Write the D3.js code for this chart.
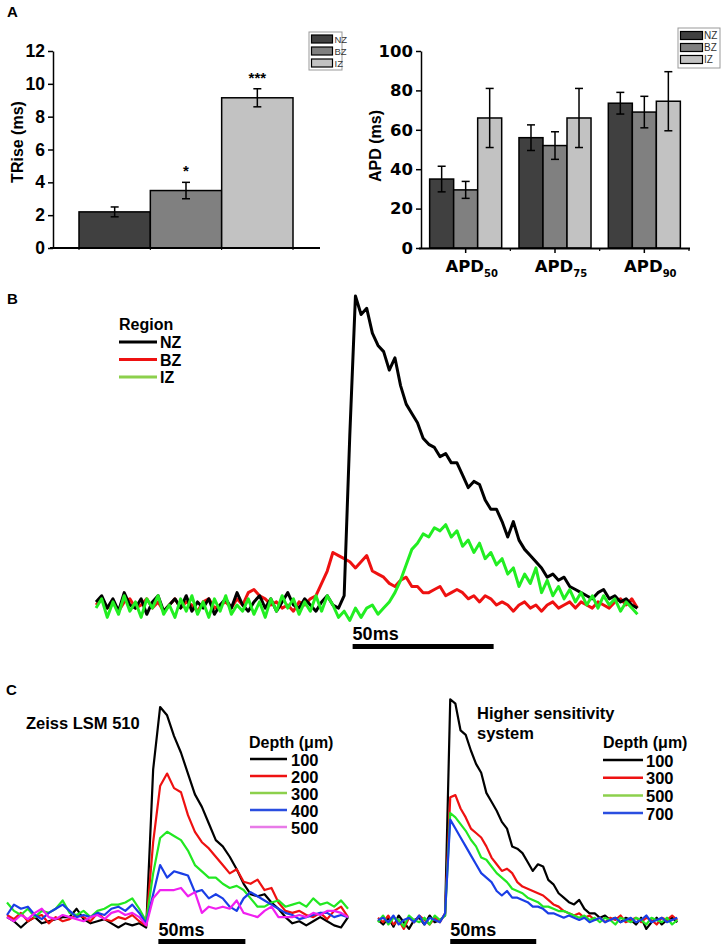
<!DOCTYPE html>
<html><head><meta charset="utf-8">
<script src="https://cdn.jsdelivr.net/npm/d3@7"></script>
<style>body{margin:0;background:#fff} svg{display:block}</style>
</head><body>
<script>
// ---------------- DATA ----------------
const regions = ["NZ", "BZ", "IZ"];
// Panel A left: TRise (ms)
const triseMean = [2.2, 3.5, 9.15];
const triseErr = [0.3, 0.5, 0.55];
const triseStars = ["", "*", "***"];
const triseTicks = [0, 2, 4, 6, 8, 10, 12];
// Panel A right: APD (ms)
const apdGroups = ["50", "75", "90"];
const apdNZ = [35, 56, 73.5];
const apdBZ = [29.5, 52, 69];
const apdIZ = [66, 66, 74.5];
const apdErrNZ = [6.5, 6.5, 5.5];
const apdErrBZ = [4.3, 7, 8];
const apdErrIZ = [15, 15, 15];
const apdTicks = [0, 20, 40, 60, 80, 100];

// Panel B: optical action potentials by region (% of NZ peak), sampled every 2 ms
const bStep = 2;
const traceNZ = [1,3,-1,2,-2,4,0,-1,2,-3,1,3,-2,0,2,-1,3,-2,1,-1,2,-3,0,2,-1,4,0,-2,1,3,-1,2,-2,1,4,0,-1,2,0,-2,1,3,0,-1,
  3,55,100,94,96,88,84,82,76,80,71,65,62,59,54,52,51,48,49,46,46,42,38,40,39,34,31,31,27,22,27,21,18,16,14,12,9,10,8,9,6,5,4,3,2,4,5,2,3,1,2,0,-1];
const traceBZ = [0,2,-1,1,-2,1,2,-1,0,2,-1,1,-2,0,2,-1,1,0,-2,1,2,-1,0,1,-1,2,0,4,5,3,2,0,1,-1,0,-2,1,0,2,
  3,7,11,17,16,15,14,12,14,16,11,10,9,7,6,8,9,6,6,4,4,5,6,3,4,5,4,2,3,1,3,2,0,1,0,-2,0,1,-1,0,-2,0,1,-1,0,1,-1,1,0,-1,1,0,-1,1,2,0,2,-1];
const traceIZ = [-1,2,-4,1,-3,3,-2,1,-4,2,-1,3,-3,0,-4,2,-2,3,-3,1,-4,2,-2,3,-3,0,-2,2,-3,1,-4,2,-2,3,-1,2,-3,1,-2,3,-2,3,0,-4,
  -2,-5,-1,-4,-1,0,-3,-1,1,4,8,13,18,20,23,22,25,24,26,22,24,19,21,17,20,15,17,13,15,10,12,6,10,7,12,4,8,3,6,2,5,1,4,0,3,-1,3,0,2,-2,1,-1,-3];
const bScaleStart = 91; // ms

// Panel C left: Zeiss LSM 510, sampled every 4 ms
const cLStep = 4;
const cLDepths = ["100", "200", "300", "400", "500"];
const cL100 = [-1,-3,-6,-3,-1,-4,-3,-2,-1,-1,3,-2,-4,-3,-2,-4,-6,-4,-5,-4,
  -6,70,100,96,86,78,68,58,52,44,36,33,28,22,15,10,9,10,6,3,-1,-4,-3,-5,-3,-1,-3,-5,-6,-1];
const cL200 = [0,-2,1,-3,-1,0,-4,-1,-3,-2,0,-1,-3,1,-2,-3,-1,-2,0,-3,
  -5,35,62,68,61,59,48,40,35,32,28,24,20,22,16,15,17,12,13,6,2,1,2,0,-1,1,-2,2,4,-1];
const cL300 = [6,2,0,3,-1,2,1,3,7,1,0,2,-1,2,3,5,5,6,8,3,
  -3,20,37,40,38,36,31,24,21,18,18,15,13,14,12,8,4,4,6,7,4,5,6,4,8,5,6,4,7,3];
const cL400 = [0,5,3,4,0,-2,1,3,5,2,-1,0,-1,1,0,3,4,2,5,1,
  -4,10,24,18,21,20,19,11,12,8,10,8,4,2,8,11,9,7,5,3,1,0,-2,-1,0,1,1,-1,0,-1];
const cL500 = [-1,-3,0,-2,1,3,-1,-2,0,-1,-2,-3,-1,0,-2,1,2,0,1,-1,
  -5,8,12,12,12,13,9,11,1,4,3,4,3,7,1,0,-1,2,4,-1,-1,-1,0,-1,1,0,2,2,1,-1];
const cLScaleStart = 87;

// Panel C right: higher sensitivity system, sampled every 3 ms
const cRStep = 3;
const cRDepths = ["100", "300", "500", "700"];
const cR100 = [0,-2,1,-3,2,-1,-4,0,1,-2,2,-1,0,
  2,99,97,85,83,76,70,66,57,53,49,44,41,33,32,30,26,22,25,24,18,16,12,10,8,7,9,5,3,3,1,2,0,1,-1,1,0,-2,1,-4,-1,1,-2,0,1,-1];
const cR300 = [1,-1,2,-2,0,-4,1,-1,2,0,-2,1,-1,
  3,55,56,50,46,41,39,37,33,28,25,22,23,21,17,15,14,13,12,11,9,7,6,4,3,2,3,1,2,0,1,-1,1,0,2,-1,0,1,-1,1,0,-2,1,0,2,0];
const cR500 = [-1,2,-2,1,0,-3,2,0,-1,1,-2,2,0,
  2,48,46,43,40,36,33,28,27,24,21,19,17,14,13,12,10,9,8,6,6,5,4,4,3,2,1,2,0,1,-1,1,0,-2,1,0,-1,1,0,-2,1,0,-1,1,-2,0];
const cR700 = [0,1,-1,2,-2,0,1,-1,2,-2,1,0,-1,
  3,45,41,37,33,29,25,21,19,17,13,11,13,10,10,9,8,6,6,5,3,3,2,1,2,1,0,1,-1,0,1,-1,0,1,-1,0,1,-1,0,2,-1,0,1,-1,0,1];
const cRScaleStart = 42;
const scaleLen = 50; // ms

// ---------------- STYLE ----------------
const LS = "'Liberation Sans', Arial, sans-serif";
const DJ = "'DejaVu Sans', sans-serif";
const barFill = {NZ: "#404040", BZ: "#808080", IZ: "#c2c2c2"};
const traceCol = {NZ: "#000000", BZ: "#ee1111", IZ: "#22ee22"};
const legCol = {NZ: "#000000", BZ: "#ee1111", IZ: "#8cd04c"};
const depthCol = {"100": "#000000", "200": "#ee1111", "300": "#22e822", "400": "#1a3ee6", "500": "#f020f0"};
const depthLegCol = {"100": "#000000", "200": "#ee1111", "300": "#8cd04c", "400": "#2a4ee0", "500": "#e87ae8"};
const depthColR = {"100": "#000000", "300": "#ee1111", "500": "#22e822", "700": "#1a3ee6"};
const depthLegColR = {"100": "#000000", "300": "#ee1111", "500": "#8cd04c", "700": "#2a4ee0"};

const svg = d3.select("body").append("svg").attr("width", 722).attr("height", 945);

function label(x, y, t, size, fam, weight, anchor) {
  return svg.append("text").attr("x", x).attr("y", y).text(t)
    .attr("font-family", fam || LS).attr("font-size", size).attr("font-weight", weight || "bold")
    .attr("text-anchor", anchor || "start").attr("fill", "#000");
}

// panel letters
label(7, 17, "A", 15);
label(7, 304, "B", 15);
label(6, 695, "C", 15);

// ---------------- PANEL A LEFT ----------------
{
  const y = d3.scaleLinear().domain([0, 12]).range([248, 51]);
  const x = d3.scaleBand().domain(regions).range([79, 293]);
  const g = svg.append("g");
  const ax = g.append("g").attr("transform", "translate(53,0)")
    .call(d3.axisLeft(y).tickValues(triseTicks).tickSize(5).tickSizeOuter(0).tickPadding(3));
  ax.selectAll("path,line").attr("stroke", "#000").attr("stroke-width", 1.5);
  ax.selectAll("text").attr("font-family", LS).attr("font-weight", "bold").attr("font-size", 17.5).attr("fill", "#000");
  g.selectAll("rect.bar").data(regions).join("rect")
    .attr("x", d => x(d)).attr("width", x.bandwidth())
    .attr("y", (d, i) => y(triseMean[i])).attr("height", (d, i) => y(0) - y(triseMean[i]))
    .attr("fill", d => barFill[d]).attr("stroke", "#000").attr("stroke-width", 1.5);
  g.append("line").attr("x1", 50).attr("x2", 320).attr("y1", y(0)).attr("y2", y(0)).attr("stroke", "#000").attr("stroke-width", 2);
  const bounds = regions.map(d => x(d)).concat([x(regions[2]) + x.bandwidth()]);
  g.selectAll("line.mt").data(bounds).join("line").attr("x1", d => d).attr("x2", d => d)
    .attr("y1", y(0)).attr("y2", y(0) + 2).attr("stroke", "#000").attr("stroke-width", 1);
  regions.forEach((r, i) => {
    const cx = x(r) + x.bandwidth() / 2, hi = y(triseMean[i] + triseErr[i]), lo = y(triseMean[i] - triseErr[i]);
    g.append("line").attr("x1", cx).attr("x2", cx).attr("y1", hi).attr("y2", lo).attr("stroke", "#000").attr("stroke-width", 1.5);
    [hi, lo].forEach(v => g.append("line").attr("x1", cx - 4).attr("x2", cx + 4).attr("y1", v).attr("y2", v).attr("stroke", "#000").attr("stroke-width", 1.5));
    if (triseStars[i]) g.append("text").attr("x", cx).attr("y", hi - 6).attr("text-anchor", "middle")
      .attr("font-family", LS).attr("font-weight", "bold").attr("font-size", 15).text(triseStars[i]);
  });
  svg.append("text").attr("transform", "translate(23,142) rotate(-90)").attr("text-anchor", "middle")
    .attr("font-family", LS).attr("font-weight", "bold").attr("font-size", 16).text("TRise (ms)");
  const lg = svg.append("g").attr("transform", "translate(309,32)");
  lg.append("rect").attr("width", 33).attr("height", 38).attr("fill", "#fff").attr("stroke", "#999").attr("stroke-width", 1);
  regions.forEach((r, i) => {
    lg.append("rect").attr("x", 2.5).attr("y", 3 + i * 12).attr("width", 21).attr("height", 8)
      .attr("fill", barFill[r]).attr("stroke", "#000").attr("stroke-width", 1.2);
    lg.append("text").attr("x", 25.5).attr("y", 10.5 + i * 12).attr("font-family", LS).attr("font-size", 9.5)
      .attr("fill", "#333").text(r);
  });
}

// ---------------- PANEL A RIGHT ----------------
{
  const y = d3.scaleLinear().domain([0, 100]).range([248, 51]);
  const x0 = d3.scaleBand().domain(apdGroups).range([421, 689]);
  const x1 = d3.scaleBand().domain(regions).range([0, x0.bandwidth()]).paddingOuter(0.36);
  const means = {NZ: apdNZ, BZ: apdBZ, IZ: apdIZ};
  const errs = {NZ: apdErrNZ, BZ: apdErrBZ, IZ: apdErrIZ};
  const g = svg.append("g");
  const ax = g.append("g").attr("transform", "translate(421,0)")
    .call(d3.axisLeft(y).tickValues(apdTicks).tickSize(5).tickSizeOuter(0).tickPadding(3));
  ax.selectAll("path,line").attr("stroke", "#000").attr("stroke-width", 1.5);
  ax.selectAll("text").attr("font-family", DJ).attr("font-weight", "bold").attr("font-size", 16.5).attr("fill", "#000");
  apdGroups.forEach((grp, gi) => {
    regions.forEach(r => {
      const v = means[r][gi], e = errs[r][gi];
      const bx = x0(grp) + x1(r), cx = bx + x1.bandwidth() / 2;
      g.append("rect").attr("x", bx).attr("width", x1.bandwidth()).attr("y", y(v)).attr("height", y(0) - y(v))
        .attr("fill", barFill[r]).attr("stroke", "#000").attr("stroke-width", 1.5);
      g.append("line").attr("x1", cx).attr("x2", cx).attr("y1", y(v + e)).attr("y2", y(v - e)).attr("stroke", "#000").attr("stroke-width", 1.5);
      [v + e, v - e].forEach(t => g.append("line").attr("x1", cx - 4).attr("x2", cx + 4).attr("y1", y(t)).attr("y2", y(t)).attr("stroke", "#000").attr("stroke-width", 1.5));
    });
  });
  const xa = g.append("g").attr("transform", "translate(0,248)")
    .call(d3.axisBottom(x0).tickSize(5).tickSizeOuter(0).tickFormat(""));
  xa.select("path").attr("d", "M419,0.5H690").attr("stroke", "#000").attr("stroke-width", 2);
  xa.selectAll("line").attr("stroke", "#000").attr("stroke-width", 1.5);
  const bnd = apdGroups.slice(1).map(d => x0(d)).concat([x0(apdGroups[2]) + x0.bandwidth()]);
  g.selectAll("line.mt").data(bnd).join("line").attr("x1", d => d).attr("x2", d => d)
    .attr("y1", 248).attr("y2", 251).attr("stroke", "#000").attr("stroke-width", 1.2);
  apdGroups.forEach(grp => {
    const t = g.append("text").attr("x", x0(grp) + x0.bandwidth() / 2 + 6).attr("y", 272).attr("text-anchor", "middle")
      .attr("font-family", DJ).attr("font-weight", "bold").attr("font-size", 16.5);
    t.append("tspan").text("APD");
    t.append("tspan").attr("font-size", 10).attr("dy", 5).text(grp);
  });
  svg.append("text").attr("transform", "translate(381,146) rotate(-90)").attr("text-anchor", "middle")
    .attr("font-family", LS).attr("font-weight", "bold").attr("font-size", 16).text("APD (ms)");
  const lg = svg.append("g").attr("transform", "translate(678,28)");
  lg.append("rect").attr("width", 42).attr("height", 40).attr("fill", "#fff").attr("stroke", "#999").attr("stroke-width", 1);
  regions.forEach((r, i) => {
    lg.append("rect").attr("x", 2.5).attr("y", 3.5 + i * 12).attr("width", 22).attr("height", 8)
      .attr("fill", barFill[r]).attr("stroke", "#000").attr("stroke-width", 1.2);
    lg.append("text").attr("x", 26).attr("y", 11 + i * 12).attr("font-family", LS).attr("font-size", 10)
      .attr("fill", "#333").text(r);
  });
}

// ---------------- PANEL B ----------------
{
  const x = d3.scaleLinear().domain([0, 192]).range([96, 96 + 192 * 2.82]);
  const y = d3.scaleLinear().domain([0, 100]).range([605, 296]);
  const line = d3.line().x((d, i) => x(i * bStep)).y(d => y(d)).curve(d3.curveLinear);
  const series = [["BZ", traceBZ], ["NZ", traceNZ], ["IZ", traceIZ]];
  svg.append("g").selectAll("path").data(series).join("path")
    .attr("d", d => line(d[1])).attr("fill", "none").attr("stroke", d => traceCol[d[0]])
    .attr("stroke-width", 3).attr("stroke-linejoin", "round");
  label(119, 330, "Region", 16);
  regions.forEach((r, i) => {
    const ly = 342 + i * 17.5;
    svg.append("line").attr("x1", 119).attr("x2", 157).attr("y1", ly).attr("y2", ly).attr("stroke", legCol[r]).attr("stroke-width", 3);
    label(160, ly + 6, r, 16);
  });
  svg.append("rect").attr("x", x(bScaleStart)).attr("width", x(bScaleStart + scaleLen) - x(bScaleStart))
    .attr("y", 644).attr("height", 5).attr("fill", "#000");
  label(x(bScaleStart), 640, "50ms", 18);
}

// ---------------- PANEL C LEFT ----------------
{
  const x = d3.scaleLinear().domain([0, 196]).range([7, 7 + 196 * 1.74]);
  const y = d3.scaleLinear().domain([0, 100]).range([915, 707]);
  const line = d3.line().x((d, i) => x(i * cLStep)).y(d => y(d));
  const data = [cL100, cL200, cL300, cL400, cL500];
  svg.append("g").selectAll("path").data(cLDepths).join("path")
    .attr("d", (d, i) => line(data[i])).attr("fill", "none").attr("stroke", d => depthCol[d])
    .attr("stroke-width", 2.2).attr("stroke-linejoin", "round");
  label(26, 729, "Zeiss LSM 510", 16.5);
  label(249, 748, "Depth (μm)", 16);
  cLDepths.forEach((dp, i) => {
    const ly = 759 + i * 17;
    svg.append("line").attr("x1", 250).attr("x2", 287).attr("y1", ly).attr("y2", ly).attr("stroke", depthLegCol[dp]).attr("stroke-width", 2.5);
    label(291, ly + 6.5, dp, 16.5);
  });
  svg.append("rect").attr("x", x(cLScaleStart)).attr("width", x(cLScaleStart + scaleLen) - x(cLScaleStart))
    .attr("y", 939).attr("height", 5).attr("fill", "#000");
  label(x(cLScaleStart), 936, "50ms", 18);
}

// ---------------- PANEL C RIGHT ----------------
{
  const x = d3.scaleLinear().domain([0, 174]).range([378, 378 + 174 * 1.72]);
  const y = d3.scaleLinear().domain([0, 100]).range([920, 697]);
  const line = d3.line().x((d, i) => x(i * cRStep)).y(d => y(d));
  const data = [cR100, cR300, cR500, cR700];
  svg.append("g").selectAll("path").data(cRDepths).join("path")
    .attr("d", (d, i) => line(data[i])).attr("fill", "none").attr("stroke", d => depthColR[d])
    .attr("stroke-width", 2.2).attr("stroke-linejoin", "round");
  label(477, 719, "Higher sensitivity", 16.5);
  label(477, 739, "system", 16.5);
  label(603, 748, "Depth (μm)", 16);
  cRDepths.forEach((dp, i) => {
    const ly = 760 + i * 17.7;
    svg.append("line").attr("x1", 603).attr("x2", 643).attr("y1", ly).attr("y2", ly).attr("stroke", depthLegColR[dp]).attr("stroke-width", 2.5);
    label(646, ly + 6.5, dp, 16.5);
  });
  svg.append("rect").attr("x", x(cRScaleStart)).attr("width", x(cRScaleStart + scaleLen) - x(cRScaleStart))
    .attr("y", 939).attr("height", 5).attr("fill", "#000");
  label(x(cRScaleStart), 936, "50ms", 18);
}
</script>
</body></html>
